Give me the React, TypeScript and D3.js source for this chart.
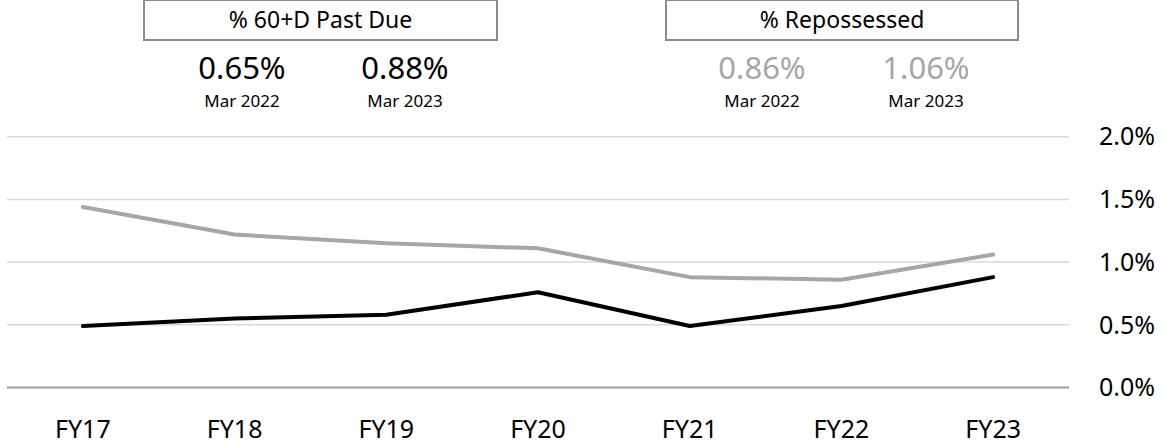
import React from "react";
import * as d3 from "d3";

const categories = ["FY17", "FY18", "FY19", "FY20", "FY21", "FY22", "FY23"];
const pastDue60 = [0.49, 0.55, 0.58, 0.76, 0.49, 0.65, 0.88];
const repossessed = [1.44, 1.22, 1.15, 1.11, 0.88, 0.86, 1.06];
const yTicks = [0, 0.5, 1.0, 1.5, 2.0];

const headerTitles = ["% 60+D Past Due", "% Repossessed"];
const headerValues = [
  ["0.65%", "0.88%"],
  ["0.86%", "1.06%"],
];
const headerPeriods = ["Mar 2022", "Mar 2023"];

const W = 1163;
const H = 446;
const FONT = "'Noto Sans', 'Open Sans', sans-serif";

export default function App() {
  const x = d3.scalePoint<string>().domain(categories).range([7, 1069]).padding(0.5);
  const y = d3.scaleLinear().domain([0, 2]).range([387.5, 136.7]);

  const line = d3
    .line<number>()
    .x((_, i) => x(categories[i]) as number)
    .y((d) => y(d));

  const boxes = [
    { x0: 144, x1: 497, vals: [242, 405] },
    { x0: 666, x1: 1018, vals: [762, 926] },
  ];

  return (
    <svg
      width={W}
      height={H}
      style={{ position: "absolute", left: 0, top: 0, fontFamily: FONT }}
    >
      <rect width={W} height={H} fill="#fff" />
      {yTicks.map((t) => (
        <line
          key={t}
          x1={7}
          x2={1069}
          y1={y(t)}
          y2={y(t)}
          stroke={t === 0 ? "#9e9e9e" : "#d9d9d9"}
          strokeWidth={t === 0 ? 2 : 1.5}
        />
      ))}
      {yTicks.map((t) => (
        <text key={"l" + t} x={1099} y={y(t)} dy="0.35em" fontSize={25} fill="#000">
          {d3.format(".1f")(t) + "%"}
        </text>
      ))}
      {categories.map((c) => (
        <text key={c} x={x(c)} y={438} textAnchor="middle" fontSize={25} fill="#000">
          {c}
        </text>
      ))}
      <path d={line(repossessed) || ""} fill="none" stroke="#a6a6a6" strokeWidth={4} strokeLinejoin="round" strokeLinecap="round" />
      <path d={line(pastDue60) || ""} fill="none" stroke="#000" strokeWidth={4} strokeLinejoin="round" strokeLinecap="round" />

      {boxes.map((b, i) => (
        <g key={i}>
          <rect x={b.x0} y={0} width={b.x1 - b.x0} height={40} fill="#fff" stroke="#8c8c8c" strokeWidth={2} />
          <text x={(b.x0 + b.x1) / 2} y={28} textAnchor="middle" fontSize={23} fill="#000">
            {headerTitles[i]}
          </text>
          {b.vals.map((cx, j) => (
            <g key={j}>
              <text x={cx} y={79} textAnchor="middle" fontSize={31} fill={i === 0 ? "#000" : "#a6a6a6"}>
                {headerValues[i][j]}
              </text>
              <text x={cx} y={107} textAnchor="middle" fontSize={17} fill="#000">
                {headerPeriods[j]}
              </text>
            </g>
          ))}
        </g>
      ))}
    </svg>
  );
}
